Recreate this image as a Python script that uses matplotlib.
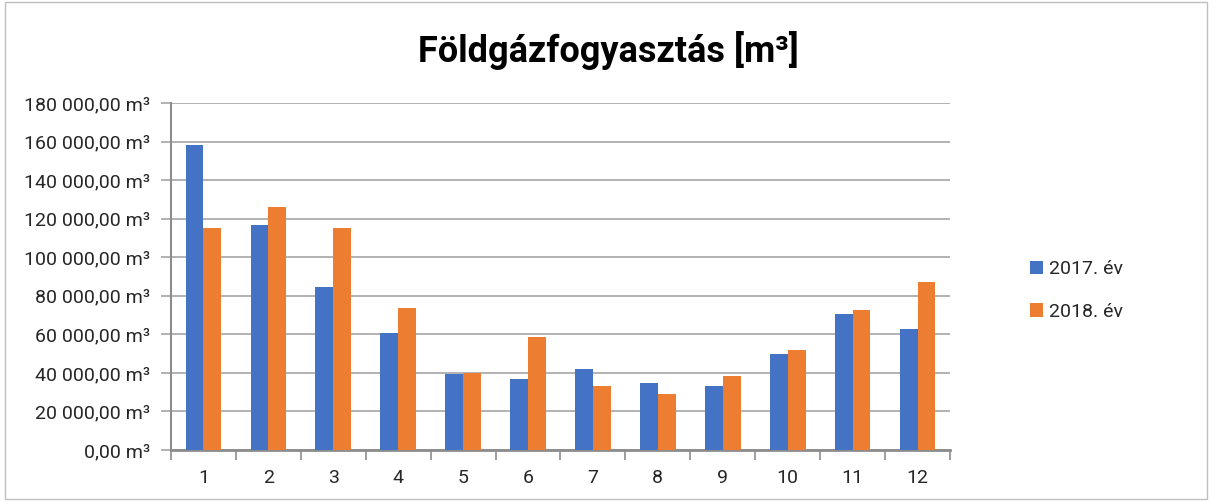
import numpy as np
import matplotlib.pyplot as plt
from matplotlib.ticker import FuncFormatter, FixedLocator
from matplotlib.patches import Rectangle

plt.rcParams['font.family'] = ['Roboto', 'DejaVu Sans']

months = ['1', '2', '3', '4', '5', '6', '7', '8', '9', '10', '11', '12']
gas2017 = [158300, 116900, 84600, 60700, 39500, 36900, 42100, 34500, 33300, 49800, 70600, 62600]
gas2018 = [115100, 126000, 115000, 73500, 40200, 58600, 33000, 29300, 38500, 52000, 72800, 87400]
labels = ['2017. év', '2018. év']

blue = '#4472C4'
orange = '#ED7D31'


def fmt(v, pos):
    s = '{:,.2f}'.format(v).replace(',', ' ').replace('.', ',')
    return s + ' m³'


fig = plt.figure(figsize=(12.12, 5.01), dpi=100)
fig.patches.append(Rectangle((0.004, 0.004), 0.992, 0.992, transform=fig.transFigure,
                             fill=False, edgecolor='#BFBFBF', linewidth=1))
ax = fig.add_axes([0.1411, 0.1018, 0.6427, 0.6926])

x = np.arange(len(months))
w = 0.275
ax.bar(x - w / 2, gas2017, w, color=blue, label=labels[0], zorder=3)
ax.bar(x + w / 2, gas2018, w, color=orange, label=labels[1], zorder=3)

ax.set_xlim(-0.5, len(months) - 0.5)
ax.set_ylim(0, 180000)
ax.set_yticks(np.arange(0, 180001, 20000))
ax.yaxis.set_major_formatter(FuncFormatter(fmt))
ax.set_xticks(x)
ax.set_xticklabels(months)
ax.xaxis.set_minor_locator(FixedLocator(np.arange(-0.5, len(months), 1)))

ax.grid(axis='y', color='#A6A6A6', linewidth=1.2, zorder=0)
for s in ['top', 'right']:
    ax.spines[s].set_visible(False)
ax.spines['left'].set_color('#8C8C8C')
ax.spines['bottom'].set_color('#8C8C8C')
ax.spines['left'].set_linewidth(1.5)
ax.spines['bottom'].set_linewidth(2)

ax.tick_params(axis='x', which='major', length=0, pad=14, labelsize=14, labelcolor='#262626')
ax.tick_params(axis='x', which='minor', length=7, width=1.2, color='#8C8C8C')
ax.tick_params(axis='y', length=7, width=1.2, color='#A6A6A6', labelsize=14,
               labelcolor='#262626', pad=8)

fig.text(0.502, 0.90, 'Földgázfogyasztás [m³]', ha='center', va='center',
         fontsize=26, fontweight='bold', color='black')

fig.legend(loc='center left', bbox_to_anchor=(0.835, 0.42), frameon=False,
           handlelength=0.7, handleheight=0.7, handletextpad=0.3,
           labelspacing=1.25, fontsize=14, labelcolor='#262626')

fig.savefig('out.png', dpi=100)
